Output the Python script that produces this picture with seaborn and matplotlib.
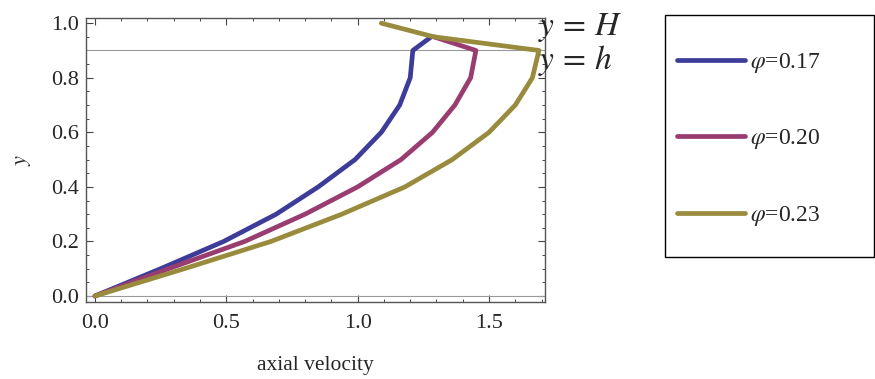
import numpy as np
import pandas as pd
import matplotlib
matplotlib.use("Agg")
import matplotlib.pyplot as plt
from matplotlib.patches import Rectangle
from matplotlib.ticker import MultipleLocator
import seaborn as sns

# ---- data ----
y_levels = [0.0, 0.1, 0.2, 0.3, 0.4, 0.5, 0.6, 0.7, 0.8, 0.9, 0.95, 1.0]
u_017 = [0.0, 0.25, 0.49, 0.69, 0.85, 0.99, 1.09, 1.16, 1.20, 1.21, 1.28]
u_020 = [0.0, 0.28, 0.57, 0.80, 1.00, 1.165, 1.285, 1.37, 1.43, 1.45, 1.29]
u_023 = [0.0, 0.34, 0.67, 0.94, 1.18, 1.36, 1.50, 1.60, 1.665, 1.69, 1.29, 1.09]
labels = [r"$\varphi$=0.17", r"$\varphi$=0.20", r"$\varphi$=0.23"]
colors = ["#3d3d99", "#993d71", "#998b3d"]
x_ticks = [0.0, 0.5, 1.0, 1.5]
y_ticks = [0.0, 0.2, 0.4, 0.6, 0.8, 1.0]
h_lines = [0.0, 0.9]

rows = []
for lab, u in zip(labels, [u_017, u_020, u_023]):
    for i, (uu, yy) in enumerate(zip(u, y_levels)):
        rows.append({"u": uu, "y": yy, "phi": lab, "order": i})
df = pd.DataFrame(rows)

sns.set_style("ticks")
plt.rcParams["font.family"] = ["Liberation Serif", "DejaVu Serif"]
plt.rcParams["mathtext.fontset"] = "stix"

fig = plt.figure(figsize=(8.75, 3.79), dpi=100)
ax = fig.add_axes([86/875, 1-302/379, (545-86)/875, (302-18)/379])

for yv in h_lines:
    ax.axhline(yv, color="#999999", lw=0.8, zorder=1)

sns.lineplot(data=df, x="u", y="y", hue="phi", units="phi", estimator=None,
             sort=False, palette=colors, linewidth=3.4, ax=ax, legend=True, zorder=3)

ax.set_xlim(-0.034, 1.713)
ax.set_ylim(-0.022, 1.019)
ax.set_xticks(x_ticks)
ax.set_yticks(y_ticks)
ax.xaxis.set_minor_locator(MultipleLocator(0.1))
ax.yaxis.set_minor_locator(MultipleLocator(0.05))
ax.set_xticklabels([f"{v:.1f}" for v in x_ticks])
ax.set_yticklabels([f"{v:.1f}" for v in y_ticks])
ax.tick_params(which="both", direction="in", top=True, right=True,
               labelsize=16, color="#444444")
ax.tick_params(which="major", length=5, width=0.8, pad=5)
ax.tick_params(axis="x", which="major", pad=9)
ax.tick_params(which="minor", length=2.5, width=0.7)
for s in ax.spines.values():
    s.set_color("#555555")
    s.set_linewidth(1.0)
    s.set_visible(True)

ax.set_xlabel("axial velocity", fontsize=15.5, labelpad=16)
ax.set_ylabel(r"$y$", fontsize=16, labelpad=13)

fig.text(538/875, 1-28/379, r"$y\,=\,H$", fontsize=24, va="center", ha="left")
fig.text(538/875, 1-61/379, r"$y\,=\,h$", fontsize=24, va="center", ha="left")

handles, labs = ax.get_legend_handles_labels()
ax.get_legend().remove()
leg = fig.legend(handles, labs, loc="upper left",
                 bbox_to_anchor=(677/875, 1-51/379), frameon=False,
                 fontsize=17, handlelength=2.9, handletextpad=0.2,
                 labelspacing=2.22, borderaxespad=0, borderpad=0)
for lh in leg.get_lines():
    lh.set_linewidth(3.4)

fig.patches.append(Rectangle((665/875, 1-257/379), 209/875, 242/379,
                             transform=fig.transFigure, fill=False,
                             edgecolor="black", lw=1.0))

fig.savefig("out.png", dpi=100)
